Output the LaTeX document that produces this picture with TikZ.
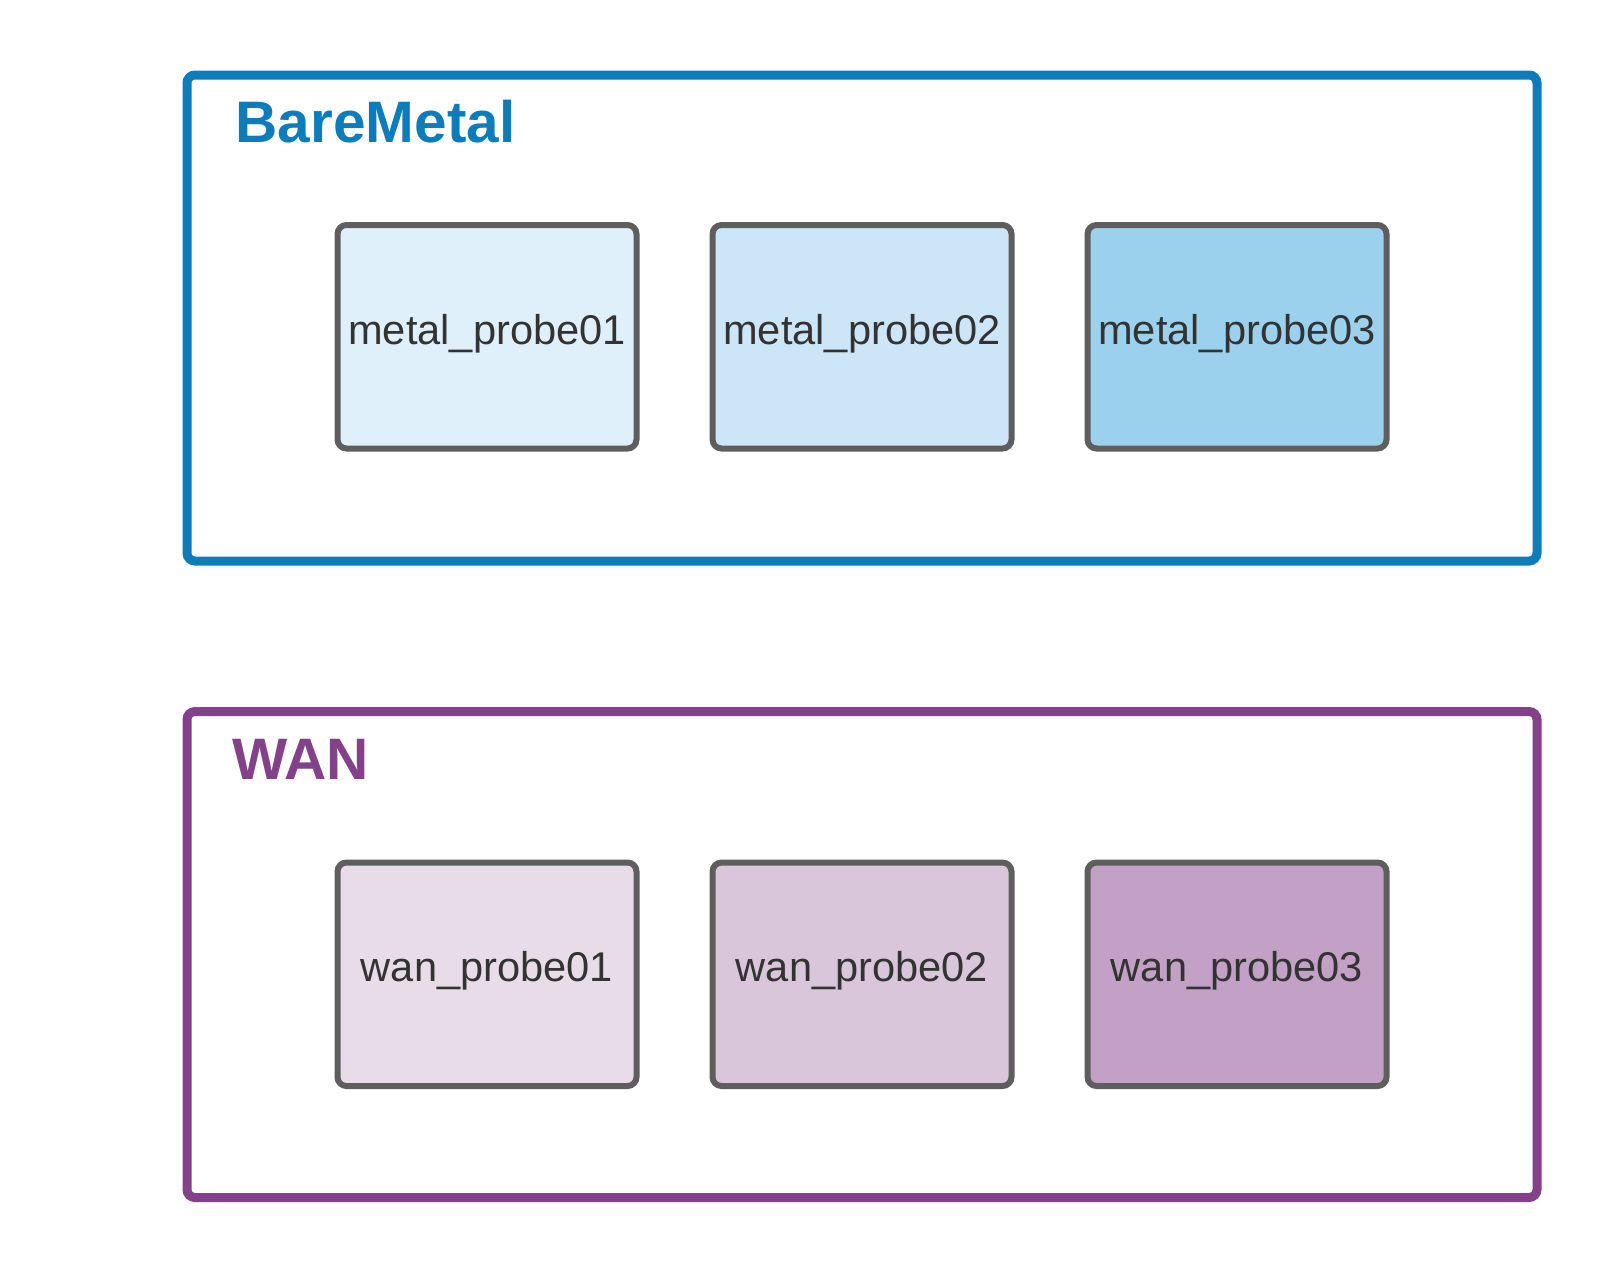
\documentclass[tikz,border=0pt]{standalone}
\usepackage{fontspec}
\setmainfont{Liberation Sans}
\definecolor{bmblue}{HTML}{0C7CBA}
\definecolor{wanpurple}{HTML}{83418A}
\definecolor{probeline}{HTML}{5E5E5E}
\definecolor{probetext}{HTML}{333333}
\definecolor{mA}{HTML}{E0F0FA}
\definecolor{mB}{HTML}{CCE6F7}
\definecolor{mC}{HTML}{9CD1EE}
\definecolor{wA}{HTML}{E9DCE9}
\definecolor{wB}{HTML}{D9C6DA}
\definecolor{wC}{HTML}{C3A0C5}
\tikzset{
  container/.style={draw=#1, line width=9pt, rounded corners=8pt, minimum width=1350pt, minimum height=486pt, inner sep=0pt, outer sep=0pt},
  grouptitle/.style={text=#1, font=\fontsize{58.5pt}{61pt}\selectfont\bfseries, anchor=base west, inner sep=0pt},
  probe/.style={draw=probeline, fill=#1, line width=6pt, rounded corners=9pt, minimum width=299pt, minimum height=223.5pt, inner sep=0pt, outer sep=0pt, text=probetext, font=\fontsize{41.6pt}{44pt}\selectfont, text height=30pt, text depth=15.5pt}
}
\begin{document}
\begin{tikzpicture}[x=1pt,y=-1pt]
\useasboundingbox (0,0) rectangle (1613,1275);
\node[container=bmblue] (bm) at (862,318) {};
\node[grouptitle=bmblue] (bmtitle) at (235.5,142) {BareMetal};
\node[probe=mA] (m1) at (487,336.75) {metal\_probe01};
\node[probe=mB] (m2) at (862,336.75) {metal\_probe02};
\node[probe=mC] (m3) at (1237,336.75) {metal\_probe03};
\node[container=wanpurple] (wan) at (862,954.5) {};
\node[grouptitle=wanpurple] (wantitle) at (232,779) {WAN};
\node[probe=wA] (w1) at (487,974.25) {wan\_probe01};
\node[probe=wB] (w2) at (862,974.25) {wan\_probe02};
\node[probe=wC] (w3) at (1237,974.25) {wan\_probe03};
\end{tikzpicture}
\end{document}
